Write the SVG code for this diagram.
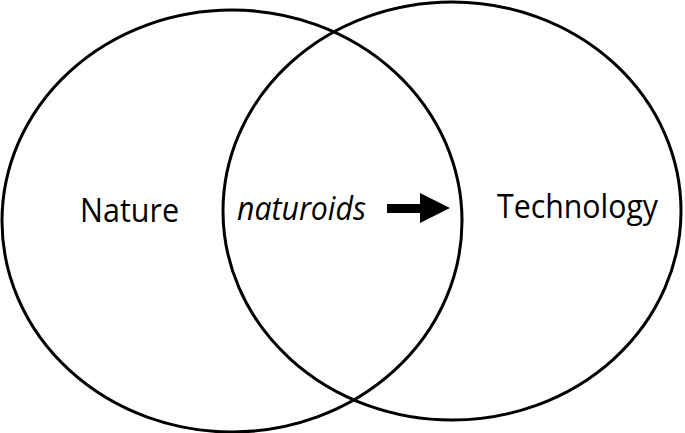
<svg xmlns="http://www.w3.org/2000/svg" width="685" height="433" viewBox="0 0 685 433">
<style>
.c{fill:none;stroke:#000;stroke-width:3}
.t{font-family:"Open Sans","Liberation Sans",sans-serif;font-size:33px;fill:#000}
</style>
<rect width="685" height="433" fill="#fff"/>
<g id="nature"><ellipse class="c" cx="232" cy="221" rx="230" ry="211"/><text class="t" x="80" y="222" textLength="99" lengthAdjust="spacingAndGlyphs">Nature</text></g>
<g id="technology"><ellipse class="c" cx="452" cy="211" rx="229" ry="209"/><text class="t" x="497" y="218" textLength="161" lengthAdjust="spacingAndGlyphs">Technology</text></g>
<g id="naturoids"><text class="t" x="237" y="220" font-style="italic" textLength="129" lengthAdjust="spacingAndGlyphs">naturoids</text></g>
<g id="connectors"><polygon points="387,204 420,204 420,193 450,208 420,223 420,213 387,213" fill="#000"/></g>
</svg>
